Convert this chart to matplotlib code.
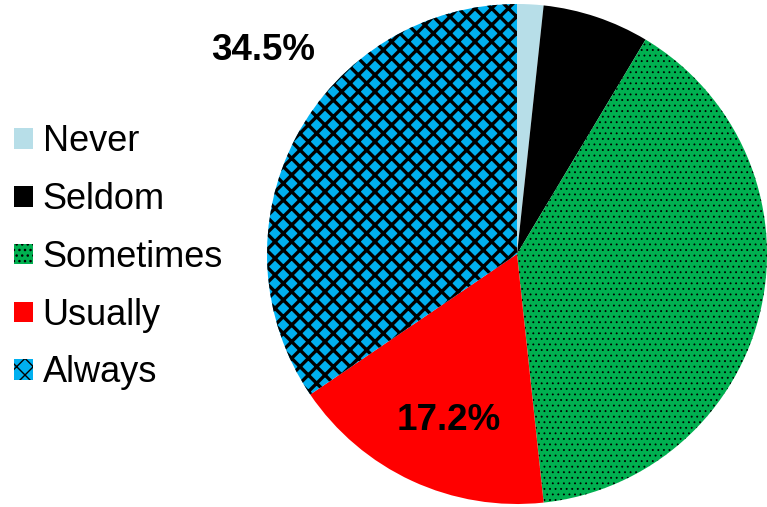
import matplotlib
matplotlib.use('Agg')
import matplotlib.pyplot as plt
import numpy as np

# share of answers per category (percent)
categories = ['Never', 'Seldom', 'Sometimes', 'Usually', 'Always']
shares = [1.7, 6.9, 39.7, 17.2, 34.5]
labelled = ['Usually', 'Always']

colors = ['#B7DEE8', '#000000', '#00B050', '#FF0000', '#00B0F0']
hatches = [None, None, '...', None, 'xx']
hatch_lw = [1.0, 1.0, 0.6, 1.0, 2.4]

plt.rcParams['font.family'] = ['Liberation Sans', 'DejaVu Sans']

fig = plt.figure(figsize=(7.67, 5.07), dpi=100)
# pie centre near (517, 254) px, radius 250 px
ax = fig.add_axes([267 / 767, 3 / 507, 500 / 767, 500 / 507])

wedges, _ = ax.pie(shares, colors=colors, startangle=90, counterclock=False,
                   wedgeprops=dict(linewidth=0))
for w, h, lw in zip(wedges, hatches, hatch_lw):
    w.set_clip_on(False)
    if h:
        w.set_edgecolor('black')
        w.set_linewidth(0)
        w.set_hatch(h)
        if hasattr(w, 'set_hatch_linewidth'):
            w.set_hatch_linewidth(lw)
ax.set_xlim(-1, 1)
ax.set_ylim(-1, 1)
ax.set_aspect('equal')
ax.axis('off')

# percentage labels (only two are shown in the original)
label_pos = {'Usually': (-0.272, -0.665), 'Always': (-1.016, 0.815)}
for cat, val in zip(categories, shares):
    if cat in labelled:
        x, y = label_pos[cat]
        ax.text(x, y, '{:.1f}%'.format(val), ha='center', va='center',
                fontsize=26.5, fontweight='bold', color='black', clip_on=False)

leg = fig.legend(wedges, categories, loc='upper left',
                 bbox_to_anchor=(0.0, 1 - 110 / 507), frameon=False,
                 fontsize=26, handlelength=0.5, handleheight=0.5,
                 handletextpad=0.28, labelspacing=0.63, borderaxespad=0,
                 borderpad=0.4)

fig.savefig('out.png', dpi=100)
